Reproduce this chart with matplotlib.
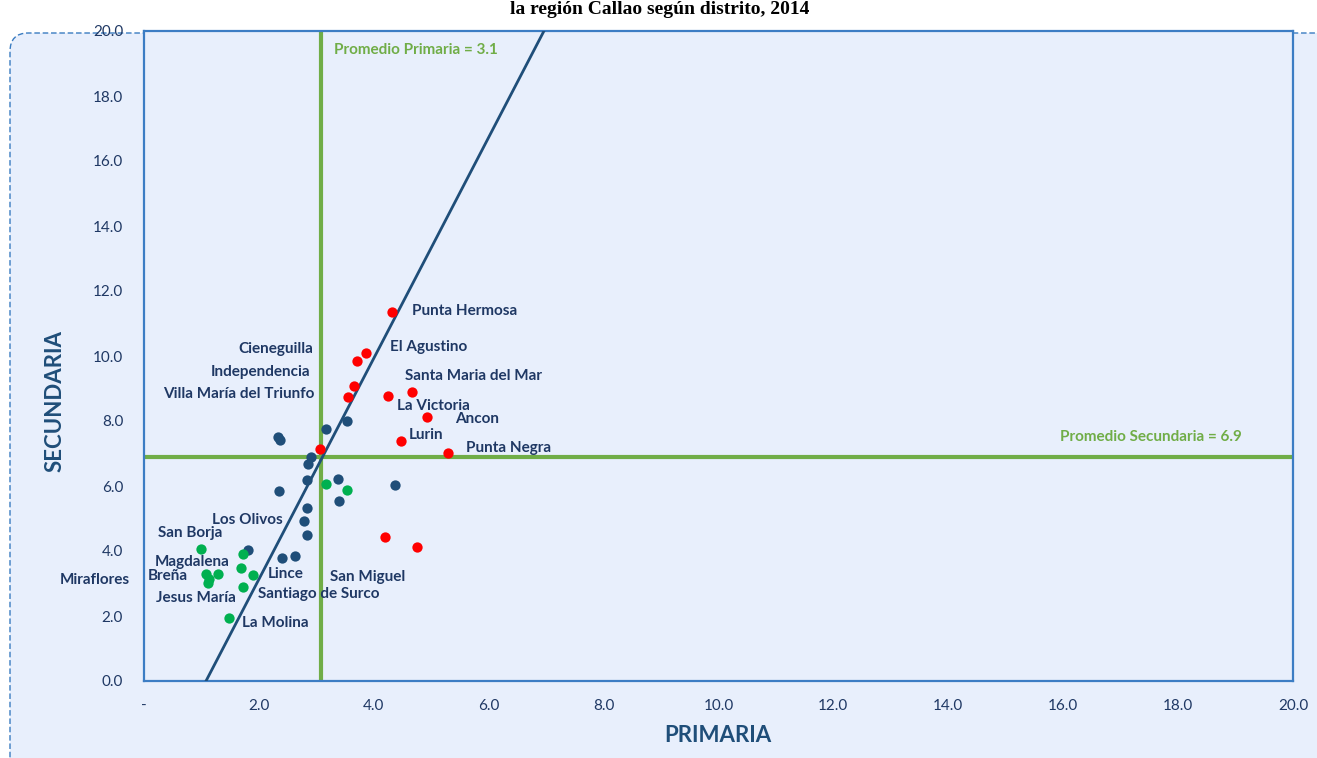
import matplotlib
matplotlib.use("Agg")
import matplotlib.pyplot as plt
from matplotlib.patches import FancyBboxPatch

# ---------------- data ----------------
red_x = [4.31, 3.86, 3.70, 3.65, 3.55, 4.24, 4.66, 4.93, 4.48, 5.30, 3.06, 4.19, 4.76]
red_y = [11.36, 10.10, 9.85, 9.08, 8.74, 8.76, 8.88, 8.13, 7.39, 7.02, 7.14, 4.44, 4.12]

navy_x = [3.54, 3.16, 2.33, 2.36, 2.91, 2.85, 2.84, 3.38, 3.39, 4.37, 2.35, 2.83, 2.79, 2.83, 2.40, 2.63, 1.81]
navy_y = [7.99, 7.75, 7.52, 7.41, 6.89, 6.68, 6.19, 6.21, 5.53, 6.02, 5.86, 5.31, 4.92, 4.49, 3.79, 3.84, 4.04]

green_x = [3.16, 3.54, 0.99, 1.73, 1.68, 1.89, 1.28, 1.08, 1.14, 1.11, 1.72, 1.48]
green_y = [6.05, 5.87, 4.07, 3.91, 3.47, 3.27, 3.30, 3.30, 3.14, 3.01, 2.90, 1.94]

prom_primaria = 3.08
prom_secundaria = 6.89
trend_slope = 3.40
trend_intercept = -3.67

x_ticks = [0, 2, 4, 6, 8, 10, 12, 14, 16, 18, 20]
x_tick_labels = ["-", "2.0", "4.0", "6.0", "8.0", "10.0", "12.0", "14.0", "16.0", "18.0", "20.0"]
y_ticks = [0, 2, 4, 6, 8, 10, 12, 14, 16, 18, 20]
y_tick_labels = ["0.0", "2.0", "4.0", "6.0", "8.0", "10.0", "12.0", "14.0", "16.0", "18.0", "20.0"]

district_names = ["Punta Hermosa", "Cieneguilla", "El Agustino", "Independencia",
                  "Santa Maria del Mar", "Villa María del Triunfo", "La Victoria", "Ancon",
                  "Lurin", "Punta Negra", "Los Olivos", "San Borja", "Magdalena", "Breña",
                  "Miraflores", "Lince", "San Miguel", "Santiago de Surco", "Jesus María",
                  "La Molina"]
# label anchor positions (data coords) and horizontal alignment
label_pos = [(4.66, 11.38, "left"), (2.94, 10.22, "right"), (4.28, 10.28, "left"),
             (2.89, 9.51, "right"), (4.54, 9.38, "left"), (2.96, 8.83, "right"),
             (4.40, 8.46, "left"), (5.41, 8.06, "left"), (4.60, 7.57, "left"),
             (5.60, 7.17, "left"), (2.42, 4.95, "right"), (0.24, 4.55, "left"),
             (0.19, 3.66, "left"), (0.07, 3.23, "left"), (-1.46, 3.11, "left"),
             (2.16, 3.29, "left"), (3.24, 3.20, "left"), (1.98, 2.68, "left"),
             (0.21, 2.55, "left"), (1.71, 1.78, "left")]

title_text = "la región Callao según distrito, 2014"

# ---------------- style ----------------
W, H = 1317, 758
bg = "#E8EFFC"
navy_txt = "#1F3864"
navy_pt = "#1F4E79"
green_line = "#70AD47"
FONT = ["Lato", "DejaVu Sans"]

fig = plt.figure(figsize=(W / 100, H / 100), dpi=100)
fig.patch.set_facecolor("white")

# outer rounded dashed chart area
box = FancyBboxPatch((10 / W, -40 / H), (W + 40) / W, (758 - 33 + 40) / H,
                     boxstyle="round,pad=0,rounding_size=0.014",
                     transform=fig.transFigure, facecolor=bg, edgecolor="#3A7CC1",
                     linewidth=1.0, linestyle=(0, (4, 2)), zorder=-5,
                     mutation_aspect=W / H)
fig.patches.append(box)

fig.text(660 / W, 1 - 1 / H, title_text, ha="center", va="top",
         fontsize=14, fontweight="bold", family=["Liberation Serif"], color="black")

ax = fig.add_axes([144 / W, 1 - 681 / H, (1293 - 144) / W, (681 - 31) / H])
ax.set_zorder(1)
ax.set_facecolor(bg)
ax.set_xlim(0, 20)
ax.set_ylim(0, 20)
for s in ax.spines.values():
    s.set_color("#3C7DC4")
    s.set_linewidth(1.6)

ax.set_xticks(x_ticks)
ax.set_xticklabels(x_tick_labels)
ax.set_yticks(y_ticks)
ax.set_yticklabels(y_tick_labels)
ax.tick_params(length=0, pad=15, labelsize=11, labelcolor=navy_txt)
ax.tick_params(axis="x", pad=13)
for lab in ax.get_xticklabels() + ax.get_yticklabels():
    lab.set_family(FONT)

# average lines
ax.axvline(prom_primaria, color=green_line, lw=3, zorder=2)
ax.axhline(prom_secundaria, color=green_line, lw=3, zorder=2)

# trend line
ax.axline((0, trend_intercept), slope=trend_slope, color=navy_pt, lw=2, zorder=3)

ms = 55
ax.scatter(navy_x, navy_y, s=ms, color=navy_pt, zorder=4, linewidths=0)
ax.scatter(green_x, green_y, s=ms, color="#00B050", zorder=4, linewidths=0)
ax.scatter(red_x, red_y, s=ms, color="#FF0000", zorder=4, linewidths=0)

for name, (lx, ly, ha) in zip(district_names, label_pos):
    ax.text(lx, ly, name, ha=ha, va="center", fontsize=11, fontweight="bold",
            color=navy_txt, family=FONT, clip_on=False, zorder=5)

ax.text(3.31, 19.42, "Promedio Primaria = 3.1", ha="left", va="center", fontsize=11,
        fontweight="bold", color=green_line, family=FONT)
ax.text(19.11, 7.51, "Promedio Secundaria = 6.9", ha="right", va="center", fontsize=11,
        fontweight="bold", color=green_line, family=FONT)

fig.text(718 / W, 1 - 735 / H, "PRIMARIA", ha="center", va="center", fontsize=16,
         fontweight="bold", color=navy_pt, family=FONT)
fig.text(55 / W, 1 - 401 / H, "SECUNDARIA", ha="center", va="center", fontsize=16,
         fontweight="bold", color=navy_pt, family=FONT, rotation=90)

fig.savefig("out.png", dpi=100, facecolor="white")
